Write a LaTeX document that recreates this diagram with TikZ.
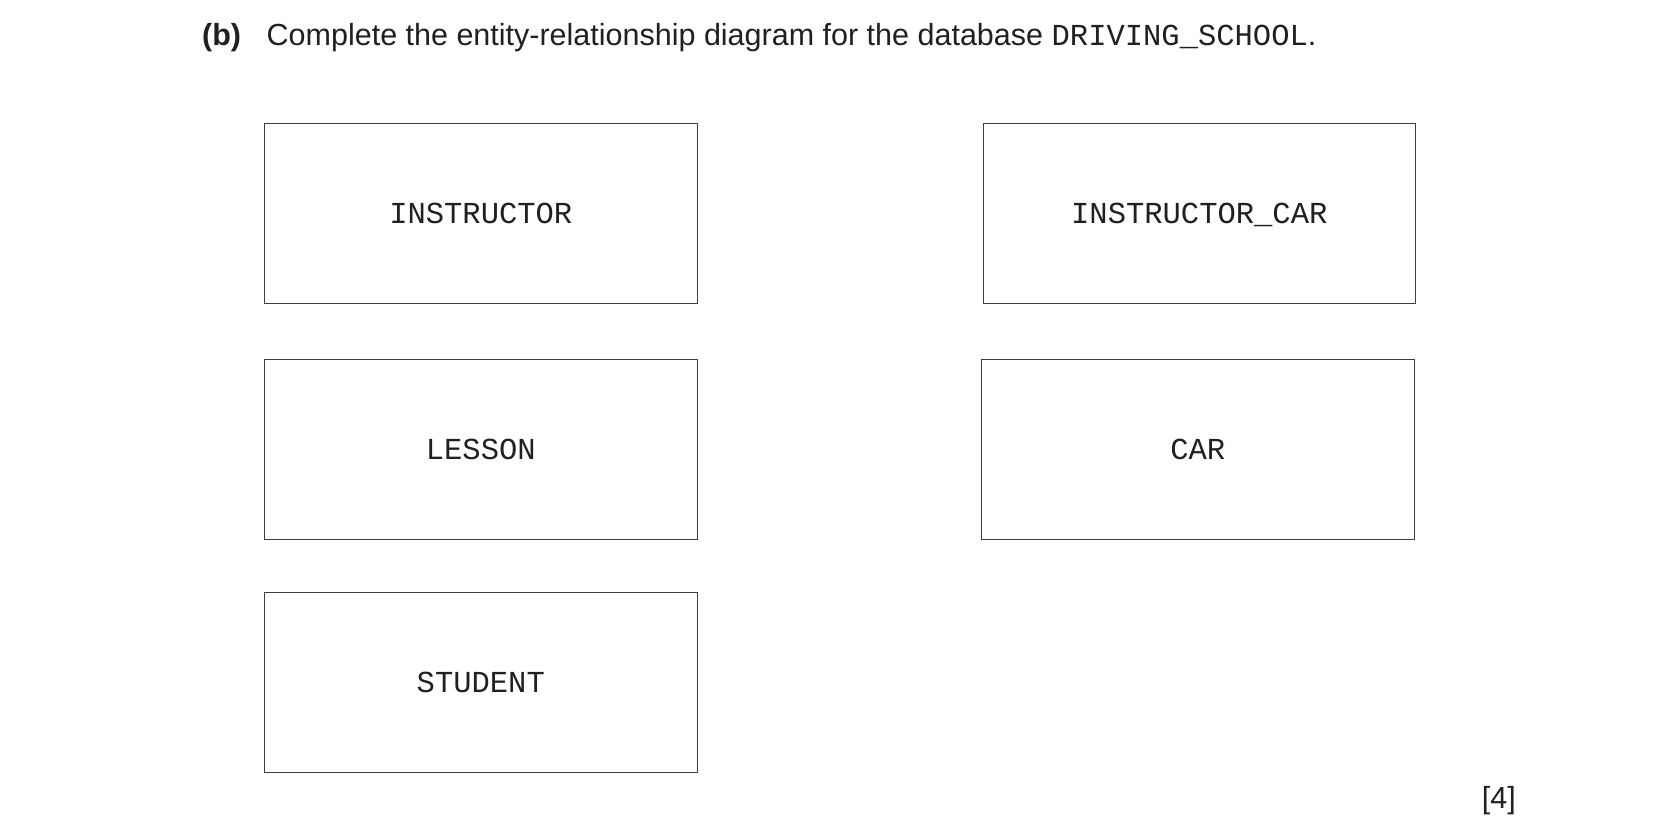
\documentclass[tikz,border=0pt]{standalone}
\usepackage{fontspec}
\setmainfont{Liberation Sans}
\setmonofont{Liberation Mono}
\definecolor{ink}{HTML}{231F20}
\definecolor{edge}{HTML}{404040}
\begin{document}
\begin{tikzpicture}[x=1bp,y=-1bp,
  entity/.style={draw=edge, line width=1.1bp, minimum width=432.5bp, minimum height=180bp,
    inner sep=0pt, text height=20bp, text depth=0pt, text=ink, anchor=north west,
    font=\fontsize{30.5bp}{36bp}\selectfont\ttfamily},
  plain/.style={inner sep=0pt, text=ink, font=\fontsize{30.5bp}{36bp}\selectfont}
]
\useasboundingbox[fill=white] (0,0) rectangle (1654,835);
\node[plain, anchor=base west, font=\fontsize{30.5bp}{36bp}\selectfont\bfseries] (part) at (202,45) {(b)};
\node[plain, anchor=base west] (question) at (266.5,45)
  {Complete the entity-relationship diagram for the database {\ttfamily DRIVING\_SCHOOL}.};
\node[entity] (instructor) at (264,122.5) {INSTRUCTOR};
\node[entity] (lesson) at (264,359) {LESSON};
\node[entity] (student) at (264,591.5) {STUDENT};
\node[entity] (instrcar) at (982.5,123) {INSTRUCTOR\_CAR};
\node[entity] (car) at (981,358.5) {CAR};
\node[plain, anchor=base east] (marks) at (1516,808) {[4]};
\end{tikzpicture}
\end{document}
